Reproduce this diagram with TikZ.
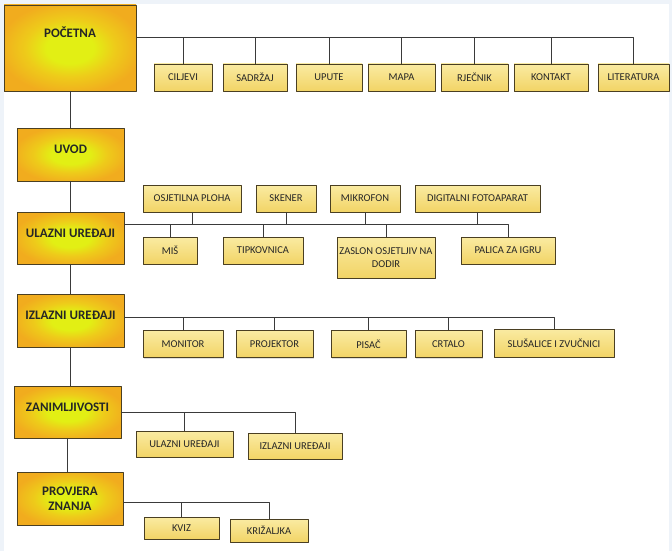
\documentclass[tikz,border=0pt]{standalone}
\usepackage{fontspec}
\setmainfont{Carlito}
\usetikzlibrary{shadows}
\definecolor{bgblue}{HTML}{EEF3F9}
\definecolor{boxline}{HTML}{4A3F22}
\definecolor{goldout}{HTML}{F1AC1E}
\definecolor{goldmid}{HTML}{EECB1A}
\definecolor{goldin}{HTML}{E2EF14}
\definecolor{leaftop}{HTML}{FAEBA2}
\definecolor{leafbot}{HTML}{F2D466}
\definecolor{wireclr}{HTML}{3A3A3A}
\pgfdeclareradialshading{goldglow}{\pgfpoint{0bp}{0bp}}{color(0bp)=(goldin); color(9bp)=(goldin); color(17bp)=(goldmid); color(27bp)=(goldout); color(50bp)=(goldout)}
\begin{document}
\begin{tikzpicture}
	[
		x=1pt,
		y=-1pt,
		line join=round,
		topbox/.style={draw=boxline,line width=0.9pt,shading=goldglow,inner sep=0pt,font=\bfseries\fontsize{13}{15}\selectfont,text=black!85},
		lift/.style={text height=9pt,text depth=#1},
		leaf/.style={draw=boxline,line width=0.7pt,top color=leaftop,bottom color=leafbot,minimum height=27pt,minimum width=#1pt,inner sep=0pt,align=center,font=\fontsize{10.5}{12.5}\selectfont,text=black!85,drop shadow={shadow xshift=1pt,shadow yshift=-1pt,opacity=0.25}},
		wire/.style={draw=wireclr,line width=0.8pt}
	]
		\fill [bgblue] (0,0) rectangle (672,551);
		\fill [white] (4,4) rectangle (669,551);
		\node [topbox,lift=30.6pt,minimum width=132pt,minimum height=86pt] (pocetna) at (70,48) {POČETNA};
		\node [topbox,lift=10.6pt,minimum width=107pt,minimum height=53pt] (uvod) at (70.5,154.5) {UVOD};
		\node [topbox,lift=10.6pt,minimum width=107pt,minimum height=52pt] (ulazni) at (70.5,238) {ULAZNI UREĐAJI};
		\node [topbox,lift=10.6pt,minimum width=107pt,minimum height=53pt] (izlazni) at (70.5,320.5) {IZLAZNI UREĐAJI};
		\node [topbox,lift=10.6pt,minimum width=107pt,minimum height=52pt] (zanim) at (67.5,412) {ZANIMLJIVOSTI};
		\node [topbox,align=center,minimum width=106pt,minimum height=53pt] (provjera) at (70,498.5) {PROVJERA\\ZNANJA};
		\node [leaf=58] (ciljevi) at (183,77.5) {CILJEVI};
		\node [leaf=64] (sadrzaj) at (255,77.5) {SADRŽAJ};
		\node [leaf=66] (upute) at (329,77.5) {UPUTE};
		\node [leaf=67] (mapa) at (401.5,77.5) {MAPA};
		\node [leaf=67] (rjecnik) at (474.5,77.5) {RJEČNIK};
		\node [leaf=74] (kontakt) at (551,77.5) {KONTAKT};
		\node [leaf=71] (literatura) at (633.5,77.5) {LITERATURA};
		\node [leaf=98] (osjetilna) at (192,198.5) {OSJETILNA PLOHA};
		\node [leaf=60] (skener) at (286,198.5) {SKENER};
		\node [leaf=70] (mikrofon) at (365,198.5) {MIKROFON};
		\node [leaf=125] (digitalni) at (477.5,198.5) {DIGITALNI FOTOAPARAT};
		\node [leaf=54] (mis) at (170,250.5) {MIŠ};
		\node [leaf=80] (tipkovnica) at (263,250.5) {TIPKOVNICA};
		\node [leaf=98,minimum height=41pt] (zaslon) at (386,257.5) {ZASLON OSJETLJIV NA\\DODIR};
		\node [leaf=94] (palica) at (508,250.5) {PALICA ZA IGRU};
		\node [leaf=80] (monitor) at (183,344) {MONITOR};
		\node [leaf=77] (projektor) at (274.5,344) {PROJEKTOR};
		\node [leaf=75] (pisac) at (368.5,344) {PISAČ};
		\node [leaf=67] (crtalo) at (448.5,344) {CRTALO};
		\node [leaf=120,minimum height=28pt] (slusalice) at (554,343) {SLUŠALICE I ZVUČNICI};
		\node [leaf=97,minimum height=26pt] (zulazni) at (184.5,444) {ULAZNI UREĐAJI};
		\node [leaf=94,minimum height=26pt] (zizlazni) at (295,446) {IZLAZNI UREĐAJI};
		\node [leaf=75,minimum height=22pt] (kviz) at (181.5,528) {KVIZ};
		\node [leaf=78,minimum height=23pt] (krizaljka) at (269,530.5) {KRIŽALJKA};
		\coordinate (pbus) at ([yshift=11pt]pocetna.east);
		\coordinate (ubus) at ([yshift=14pt]ulazni.east);
		\coordinate (ibus) at ([yshift=3.5pt]izlazni.east);
		\coordinate (zbus) at (zanim.east);
		\coordinate (vbus) at ([yshift=-3.5pt]provjera.east);
		\foreach \a/\b in {pocetna/uvod,uvod/ulazni,ulazni/izlazni,izlazni/zanim,zanim/provjera}
			\draw [wire] (\a.south) -- (\a.south |- \b.north);
		\draw [wire] (pbus) -| (literatura.north);
		\foreach \c in {ciljevi,sadrzaj,upute,mapa,rjecnik,kontakt}
			\draw [wire] (\c.north) -- (\c.north |- pbus);
		\draw [wire] (ubus) -| (palica.north);
		\foreach \c in {osjetilna,skener,mikrofon,digitalni}
			\draw [wire] (\c.south) -- (\c.south |- ubus);
		\foreach \c in {mis,tipkovnica,zaslon}
			\draw [wire] (\c.north) -- (\c.north |- ubus);
		\draw [wire] (ibus) -| (slusalice.north);
		\foreach \c in {monitor,projektor,pisac,crtalo}
			\draw [wire] (\c.north) -- (\c.north |- ibus);
		\draw [wire] (zbus) -| (zizlazni.north);
		\draw [wire] (zulazni.north) -- (zulazni.north |- zbus);
		\draw [wire] (vbus) -| (krizaljka.north);
		\draw [wire] (kviz.north) -- (kviz.north |- vbus);
\end{tikzpicture}
\end{document}
